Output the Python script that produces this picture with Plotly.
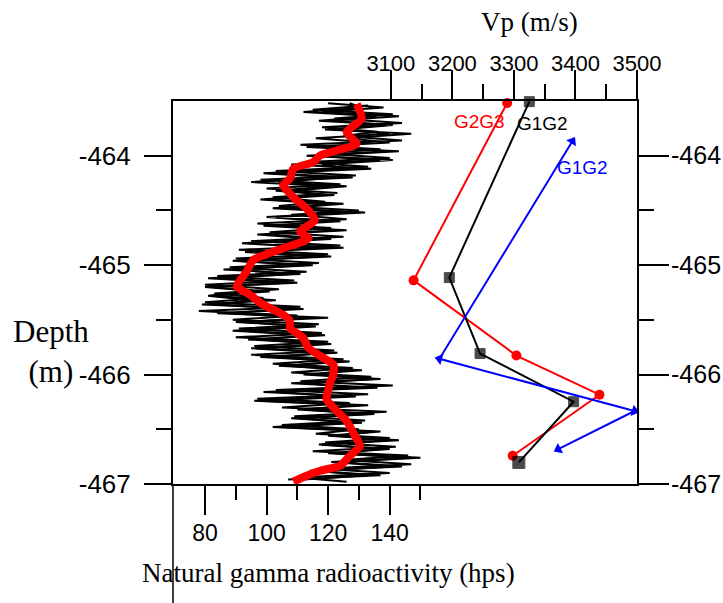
import plotly.graph_objects as go

# ---------------- Natural gamma logs (hps) vs depth (m) ----------------
depth_log = [-463.52, -463.56, -463.60, -463.64, -463.68, -463.72, -463.76, -463.80, -463.84, -463.88,
             -463.92, -463.96, -464.00, -464.04, -464.08, -464.12, -464.16, -464.20, -464.24, -464.28,
             -464.32, -464.36, -464.40, -464.44, -464.48, -464.52, -464.56, -464.60, -464.64, -464.68,
             -464.72, -464.76, -464.80, -464.84, -464.88, -464.92, -464.96, -465.00, -465.04, -465.08,
             -465.12, -465.16, -465.20, -465.24, -465.28, -465.32, -465.36, -465.40, -465.44, -465.48,
             -465.52, -465.56, -465.60, -465.64, -465.68, -465.72, -465.76, -465.80, -465.84, -465.88,
             -465.92, -465.96, -466.00, -466.04, -466.08, -466.12, -466.16, -466.20, -466.24, -466.28,
             -466.32, -466.36, -466.40, -466.44, -466.48, -466.52, -466.56, -466.60, -466.64, -466.68,
             -466.72, -466.76, -466.80, -466.84, -466.88, -466.92, -466.96]

depth_log_b = [-463.54, -463.58, -463.62, -463.66, -463.70, -463.74, -463.78, -463.82, -463.86, -463.90,
               -463.94, -463.98, -464.02, -464.06, -464.10, -464.14, -464.18, -464.22, -464.26, -464.30,
               -464.34, -464.38, -464.42, -464.46, -464.50, -464.54, -464.58, -464.62, -464.66, -464.70,
               -464.74, -464.78, -464.82, -464.86, -464.90, -464.94, -464.98, -465.02, -465.06, -465.10,
               -465.14, -465.18, -465.22, -465.26, -465.30, -465.34, -465.38, -465.42, -465.46, -465.50,
               -465.54, -465.58, -465.62, -465.66, -465.70, -465.74, -465.78, -465.82, -465.86, -465.90,
               -465.94, -465.98, -466.02, -466.06, -466.10, -466.14, -466.18, -466.22, -466.26, -466.30,
               -466.34, -466.38, -466.42, -466.46, -466.50, -466.54, -466.58, -466.62, -466.66, -466.70,
               -466.74, -466.78, -466.82, -466.86, -466.90, -466.94, -466.98]

gamma_a = [120, 138, 118, 143, 121, 139, 119, 147, 126, 140, 113, 143, 116, 137, 108, 134, 101, 128, 95, 121,
           103, 122, 100, 125, 106, 132, 103, 124, 99, 126, 100, 121, 94, 125, 93, 118, 90, 115, 86, 111,
           81, 106, 82, 101, 82, 103, 79, 112, 84, 120, 90, 116, 92, 119, 94, 121, 97, 123, 98, 127,
           104, 131, 112, 137, 108, 136, 99, 129, 98, 133, 110, 135, 108, 131, 104, 137, 120, 143, 118, 140,
           120, 150, 123, 144, 114, 137, 107]

gamma_b = [133, 115, 141, 122, 144, 118, 136, 125, 144, 111, 137, 118, 140, 112, 133, 103, 129, 98, 124, 100,
           123, 102, 119, 104, 130, 108, 126, 97, 121, 101, 125, 95, 124, 91, 120, 90, 117, 88, 113, 84,
           109, 80, 104, 83, 99, 80, 111, 78, 110, 89, 117, 91, 118, 90, 120, 96, 122, 95, 125, 102,
           128, 108, 134, 111, 141, 103, 133, 97, 127, 105, 139, 109, 132, 105, 130, 116, 140, 119, 142, 115,
           146, 125, 147, 118, 140, 110, 126]

gamma_c = [127, 131, 112, 136, 117, 141, 124, 140, 116, 133, 121, 139, 113, 141, 118, 127, 99, 122, 104, 126,
           108, 118, 98, 121, 102, 127, 100, 119, 104, 123, 97, 117, 92, 118, 96, 121, 89, 112, 90, 108,
           85, 110, 80, 97, 81, 95, 84, 106, 88, 114, 93, 112, 89, 115, 97, 118, 95, 120, 102, 123,
           107, 126, 116, 135, 113, 130, 104, 124, 96, 129, 112, 133, 111, 127, 102, 135, 123, 139, 117, 137,
           122, 147, 121, 141, 116, 133, 112]

# smoothed gamma curve (red)
depth_smooth = [-463.527, -463.663, -463.785, -463.891, -463.952, -463.997, -464.058, -464.118, -464.209, -464.270,
                -464.346, -464.407, -464.482, -464.589, -464.695, -464.755, -464.846, -464.953, -465.059, -465.165,
                -465.196, -465.271, -465.362, -465.453, -465.514, -465.574, -465.665, -465.756, -465.847, -465.908,
                -465.999, -466.075, -466.136, -466.227, -466.333, -466.424, -466.560, -466.652, -466.742, -466.833,
                -466.879, -466.924, -466.979]
gamma_smooth = [129.3, 130.9, 126.0, 129.3, 122.8, 117.4, 115.2, 108.7, 107.6, 105.4,
                107.6, 109.8, 113.0, 115.7, 110.9, 113.6, 105.4, 95.7, 93.5, 90.8,
                90.3, 94.6, 98.9, 105.4, 107.6, 107.6, 111.9, 113.6, 118.4, 121.7,
                121.7, 120.6, 120.1, 119.5, 122.8, 126.0, 128.7, 130.4, 127.1, 123.9,
                117.4, 113.0, 108.7]

# ---------------- Vp (m/s) profiles ----------------
g2g3_depth = [-463.518, -465.139, -465.826, -466.184, -466.742]
g2g3_vp = [3289, 3137, 3304, 3439, 3298]

g1g2_depth = [-463.506, -465.114, -465.808, -466.248, -466.803]
g1g2_vp = [3325, 3195, 3245, 3397, 3308]

g1g2b_depth = [-463.867, -465.856, -466.333, -466.682]
g1g2b_vp = [3395, 3179, 3496, 3372]

gamma_ticks = [80, 100, 120, 140]
gamma_minor = [90, 110, 130, 150]
vp_ticks = [3100, 3200, 3300, 3400, 3500]
vp_minor = [3150, 3250, 3350, 3450]
depth_ticks = [-464, -465, -466, -467]
depth_labels = ["-464", "-465", "-466", "-467"]
depth_minor = [-464.5, -465.5, -466.5]

fig = go.Figure()

for g, d in ((gamma_a, depth_log), (gamma_b, depth_log_b), (gamma_c, depth_log)):
    fig.add_trace(go.Scatter(x=g, y=d, mode="lines",
                             line=dict(color="black", width=2),
                             xaxis="x", yaxis="y", showlegend=False, hoverinfo="skip"))

fig.add_trace(go.Scatter(x=gamma_smooth, y=depth_smooth, mode="lines",
                         line=dict(color="#ff0000", width=8, shape="spline", smoothing=0.6),
                         xaxis="x", yaxis="y", showlegend=False))

fig.add_trace(go.Scatter(x=g2g3_vp, y=g2g3_depth, mode="lines+markers",
                         line=dict(color="#ff0000", width=2),
                         marker=dict(symbol="circle", size=10, color="#ff0000",
                                     line=dict(width=0)),
                         xaxis="x2", yaxis="y2", showlegend=False, cliponaxis=False))
fig.add_trace(go.Scatter(x=g1g2_vp, y=g1g2_depth, mode="lines+markers",
                         line=dict(color="black", width=2),
                         marker=dict(symbol="square", size=[10, 10, 10, 10, 12], color="black",
                                     line=dict(width=1, color="black")),
                         xaxis="x2", yaxis="y2", showlegend=False, cliponaxis=False))
fig.add_trace(go.Scatter(x=g1g2b_vp, y=g1g2b_depth, mode="lines+markers",
                         line=dict(color="#0000ff", width=2),
                         marker=dict(symbol="triangle-up", size=10, color="#0000ff",
                                     line=dict(width=0),
                                     angle=[32, 285, 105, 243]),
                         xaxis="x2", yaxis="y2", showlegend=False, cliponaxis=False))

serif = "Liberation Serif, Times New Roman"
common = dict(showline=True, linewidth=2, linecolor="black", showgrid=False, zeroline=False,
              automargin=False, tickcolor="black", tickwidth=1.5, ticks="outside", tickmode="array")

fig.update_layout(
    width=723, height=603,
    margin=dict(l=173, r=86, t=101, b=119, autoexpand=False),
    paper_bgcolor="white", plot_bgcolor="white",
    xaxis=dict(range=[69.6, 220.35], side="bottom", anchor="y",
               tickvals=gamma_ticks, ticklen=29,
               minor=dict(tickmode="array", tickvals=gamma_minor, ticks="outside",
                          ticklen=14, tickwidth=1.5, tickcolor="black", showgrid=False),
               tickfont=dict(family="Liberation Sans, Arial", size=23, color="black"),
               ticklabelstandoff=-2, **common),
    xaxis2=dict(range=[2746, 3500], side="top", overlaying="x", anchor="y2",
                tickvals=vp_ticks, ticklen=29,
                minor=dict(tickmode="array", tickvals=vp_minor, ticks="outside",
                           ticklen=15, tickwidth=1.5, tickcolor="black", showgrid=False),
                tickfont=dict(family="Liberation Sans, Arial", size=22, color="black"),
                ticklabelstandoff=-10, **common),
    yaxis=dict(range=[-467, -463.5], side="left", anchor="x",
               tickvals=depth_ticks, ticktext=depth_labels, ticklen=27,
               minor=dict(tickmode="array", tickvals=depth_minor, ticks="outside",
                          ticklen=15, tickwidth=1.5, tickcolor="black", showgrid=False),
               tickfont=dict(family="Liberation Sans, Arial", size=26, color="black"),
               ticklabelstandoff=8, **common),
    yaxis2=dict(range=[-467, -463.5], side="right", overlaying="y", anchor="x2",
                tickvals=depth_ticks, ticktext=depth_labels, ticklen=30,
                minor=dict(tickmode="array", tickvals=depth_minor, ticks="outside",
                           ticklen=15, tickwidth=1.5, tickcolor="black", showgrid=False),
                tickfont=dict(family="Liberation Sans, Arial", size=25, color="black"),
                ticklabelstandoff=-3, **common),
    shapes=[dict(type="line", xref="paper", yref="paper", x0=0, x1=0, y0=0, y1=-0.33,
                 line=dict(color="black", width=1.5))],
    annotations=[
        dict(text="Vp (m/s)", xref="paper", yref="paper", x=0.769, y=1.206,
             xanchor="center", yanchor="middle", showarrow=False,
             font=dict(family=serif, size=27, color="black")),
        dict(text="Depth<br>(m)", xref="paper", yref="paper", x=-0.263, y=0.345,
             xanchor="center", yanchor="middle", showarrow=False, align="center",
             font=dict(family=serif, size=31, color="black")),
        dict(text="Natural gamma radioactivity (hps)", xref="paper", yref="paper", x=0.336, y=-0.232,
             xanchor="center", yanchor="middle", showarrow=False,
             font=dict(family=serif, size=27, color="black")),
        dict(text="G2G3", xref="x2", yref="y2", x=3243.6, y=-463.688, showarrow=False,
             xanchor="center", yanchor="middle",
             font=dict(family="Liberation Sans, Arial", size=19, color="#ff0000")),
        dict(text="G1G2", xref="x2", yref="y2", x=3346.7, y=-463.706, showarrow=False,
             xanchor="center", yanchor="middle",
             font=dict(family="Liberation Sans, Arial", size=19, color="black")),
        dict(text="G1G2", xref="x2", yref="y2", x=3411.9, y=-464.106, showarrow=False,
             xanchor="center", yanchor="middle",
             font=dict(family="Liberation Sans, Arial", size=19, color="#0000ff")),
    ],
)

fig.write_html("out.html", config={"displayModeBar": False},
               post_script="document.body.style.margin='0';document.body.style.overflow='hidden';")
